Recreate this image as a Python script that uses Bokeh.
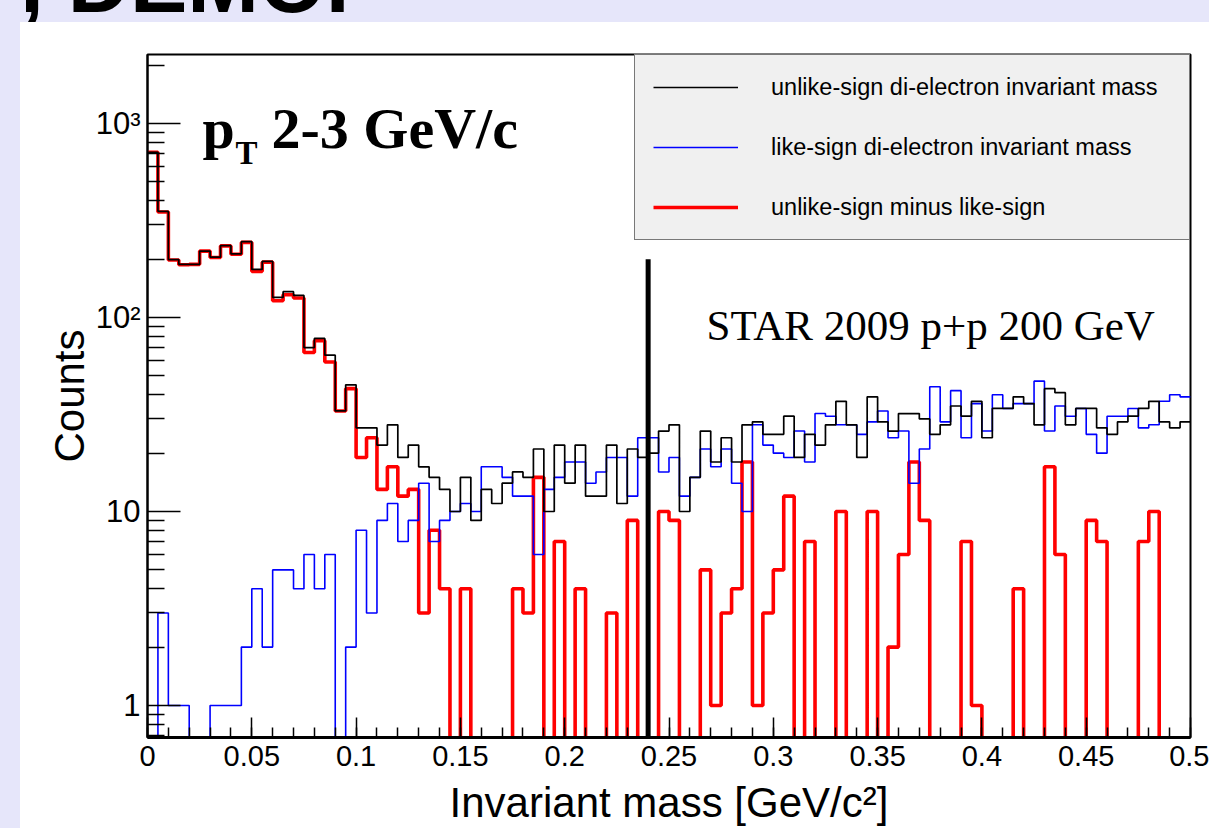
import math
import numpy as np
from bokeh.plotting import figure
from bokeh.models import (Range1d, FixedTicker, CustomJSTickFormatter, Legend, LegendItem,
                          Label, Div, ColumnDataSource)
from bokeh.layouts import column, row
from bokeh.embed import file_html
from bokeh.resources import INLINE

# ---------------- data ----------------
mass_min = 0.0
bin_width = 0.005          # GeV/c^2, 100 bins from 0 to 0.5

unlike_counts = [711, 353, 199, 188, 188, 220, 205, 235, 213, 246,
                 177, 195, 127, 136, 130, 70, 78, 64, 33, 45,
                 27, 27, 22, 28, 19, 22, 17, 15, 13, 10,
                 15, 9, 13, 11, 14, 16, 15, 21, 10, 22,
                 14, 22, 12, 12, 22, 11, 21, 19, 20, 26,
                 28, 10, 15, 26, 18, 24, 18, 28, 29, 25,
                 25, 31, 19, 25, 22, 28, 37, 28, 19, 39,
                 29, 26, 32, 32, 30, 25, 28, 35, 31, 37,
                 24, 34, 34, 39, 36, 28, 43, 41, 28, 34,
                 34, 27, 25, 29, 31, 34, 37, 29, 27, 29]

like_counts = [0, 3, 1, 1, 0, 0, 1, 1, 1, 2,
               4, 2, 5, 5, 4, 6, 4, 6, 0, 2,
               8, 3, 9, 11, 7, 9, 14, 7, 9, 10,
               11, 10, 17, 17, 15, 12, 12, 6, 13, 15,
               18, 18, 14, 16, 19, 19, 12, 24, 24, 16,
               19, 12, 15, 21, 17, 21, 14, 10, 28, 22,
               20, 19, 26, 18, 32, 31, 28, 28, 25, 29,
               33, 24, 26, 14, 21, 44, 29, 42, 24, 36,
               26, 40, 34, 36, 36, 47, 26, 35, 31, 34,
               25, 20, 31, 31, 34, 27, 28, 37, 40, 39]

diff_counts = [711, 350, 198, 187, 188, 220, 204, 234, 212, 244,
               173, 193, 122, 131, 126, 66, 76, 59, 33, 43,
               19, 24, 13, 17, 12, 13, 3, 8, 4, 0,
               4, 0, 0, 0, 0, 4, 3, 15, 0, 7,
               0, 4, 0, 0, 3, 0, 9, 0, 0, 10,
               9, 0, 0, 5, 1, 3, 4, 18, 1, 3,
               5, 12, 0, 7, 0, 0, 10, 0, 0, 10,
               0, 2, 6, 18, 9, 0, 0, 0, 7, 1,
               0, 0, 0, 4, 0, 0, 17, 6, 0, 0,
               9, 7, 0, 0, 0, 7, 10, 0, 0, 0]

series_names = ["unlike-sign di-electron invariant mass",
                "like-sign di-electron invariant mass",
                "unlike-sign minus like-sign"]

cut_mass = 0.24            # vertical marker
cut_top = 200

x_tick_values = [0, 0.05, 0.1, 0.15, 0.2, 0.25, 0.3, 0.35, 0.4, 0.45, 0.5]
y_tick_values = [1, 10, 100, 1000]

# ---------------- figure ----------------
Y_LO, Y_HI = 0.684, 2270
FLOOR = 0.1   # empty / negative bins are drawn down to the frame bottom (log scale)

p = figure(width=1189, height=806,
           x_range=Range1d(0, 0.5), y_range=Range1d(Y_LO, Y_HI),
           y_axis_type="log", output_backend="svg", toolbar_location=None,
           min_border_left=127, min_border_right=19, min_border_top=32, min_border_bottom=91)
p.xgrid.visible = False
p.ygrid.visible = False
p.background_fill_color = "white"
p.border_fill_color = "white"
p.outline_line_color = "black"
p.outline_line_width = 2

n = len(unlike_counts)
edges = [mass_min + bin_width * i for i in range(n + 1)]

def step_y(vals):
    v = [c if c > 0 else FLOOR for c in vals]
    return v + [v[-1]]

src = ColumnDataSource(dict(x=edges,
                            unlike=step_y(unlike_counts),
                            like=step_y(like_counts),
                            diff=step_y(diff_counts)))

r_red = p.step("x", "diff", source=src, mode="after", line_color="#ff0000", line_width=3.6)
r_blue = p.step("x", "like", source=src, mode="after", line_color="#0000ff", line_width=1.6)
r_black = p.step("x", "unlike", source=src, mode="after", line_color="#000000", line_width=1.7)

p.segment(x0=[cut_mass], y0=[FLOOR], x1=[cut_mass], y1=[cut_top], line_color="black", line_width=5)

# axes
xa = p.xaxis[0]
xa.ticker = FixedTicker(ticks=x_tick_values, minor_ticks=[round(0.01 * i, 2) for i in range(51)])
xa.formatter = CustomJSTickFormatter(code="return tick === 0 ? '0' : String(parseFloat(tick.toFixed(2)));")
xa.major_tick_in = 20
xa.major_tick_out = 0
xa.minor_tick_in = 10
xa.minor_tick_out = 0
xa.axis_line_width = 3
xa.major_tick_line_width = 1.5
xa.minor_tick_line_width = 1.5
xa.major_label_text_font = "Liberation Sans"
xa.major_label_text_font_size = "29px"
xa.major_label_text_color = "black"
xa.major_label_standoff = 8
xa.axis_label = "Invariant mass [GeV/c\u00b2]"
xa.axis_label_text_font = "Liberation Sans"
xa.axis_label_text_font_size = "42px"
xa.axis_label_text_font_style = "normal"
xa.axis_label_text_color = "black"
xa.axis_label_standoff = 10

ya = p.yaxis[0]
minor_y = [0.7, 0.8, 0.9] + [m * 10 ** k for k in range(4) for m in range(2, 10) if m * 10 ** k < Y_HI]
ya.ticker = FixedTicker(ticks=y_tick_values, minor_ticks=minor_y)
ya.formatter = CustomJSTickFormatter(code="""
const e = Math.round(Math.log10(tick));
if (e <= 0) return '1';
if (e == 1) return '10';
const sup = {2: '\u00b2', 3: '\u00b3', 4: '\u2074'};
return '10' + sup[e];
""")
ya.major_tick_in = 33
ya.major_tick_out = 0
ya.minor_tick_in = 17
ya.minor_tick_out = 0
ya.axis_line_width = 2
ya.major_tick_line_width = 1.5
ya.minor_tick_line_width = 1.5
ya.major_label_text_font = "Liberation Sans"
ya.major_label_text_font_size = "31px"
ya.major_label_text_color = "black"
ya.major_label_standoff = 7
ya.axis_label = "Counts"
ya.axis_label_text_font = "Liberation Sans"
ya.axis_label_text_font_size = "42px"
ya.axis_label_text_font_style = "normal"
ya.axis_label_text_color = "black"
ya.axis_label_standoff = 0

# annotations inside the frame
p.add_layout(Label(x=55, y=609, x_units="screen", y_units="screen", text="p",
                   text_font="Liberation Serif", text_font_style="bold", text_font_size="58px",
                   text_color="black", text_baseline="alphabetic"))
p.add_layout(Label(x=88, y=585, x_units="screen", y_units="screen", text="T",
                   text_font="Liberation Serif", text_font_style="bold", text_font_size="33px",
                   text_color="black", text_baseline="alphabetic"))
p.add_layout(Label(x=124, y=609, x_units="screen", y_units="screen", text="2-3 GeV/c",
                   text_font="Liberation Serif", text_font_style="bold", text_font_size="58px",
                   text_color="black", text_baseline="alphabetic"))
p.add_layout(Label(x=559, y=412, x_units="screen", y_units="screen", text="STAR 2009 p+p 200 GeV",
                   text_font="Liberation Serif", text_font_size="43px", text_color="black",
                   text_baseline="alphabetic"))

legend = Legend(items=[LegendItem(label=series_names[0], renderers=[r_black]),
                       LegendItem(label=series_names[1], renderers=[r_blue]),
                       LegendItem(label=series_names[2], renderers=[r_red])],
                location="top_right", margin=0, padding=18, spacing=32,
                glyph_width=85, glyph_height=28, label_height=28, label_width=400,
                label_standoff=33, label_text_font="Liberation Sans", label_text_font_size="23.5px",
                label_text_color="black",
                background_fill_color="#f0f0f0", background_fill_alpha=1.0,
                border_line_color="black", border_line_width=1.5)
p.add_layout(legend)

lav = "#E6E6FA"
top = Div(text="<div style=\"font-family:'Liberation Sans';font-weight:bold;font-size:86px;"
               "line-height:86px;margin-top:-68px;color:black;white-space:nowrap;"
               "transform:translateX(20px);\">, DEMO.</div>",
          width=1209, height=22, margin=(0, 0, 0, 0),
          styles={"background-color": lav, "overflow": "hidden"})
left = Div(text="", width=20, height=806, margin=(0, 0, 0, 0), styles={"background-color": lav})
layout = column(top, row(left, p, spacing=0), spacing=0)

open("out.html", "w").write(file_html(layout, INLINE))
